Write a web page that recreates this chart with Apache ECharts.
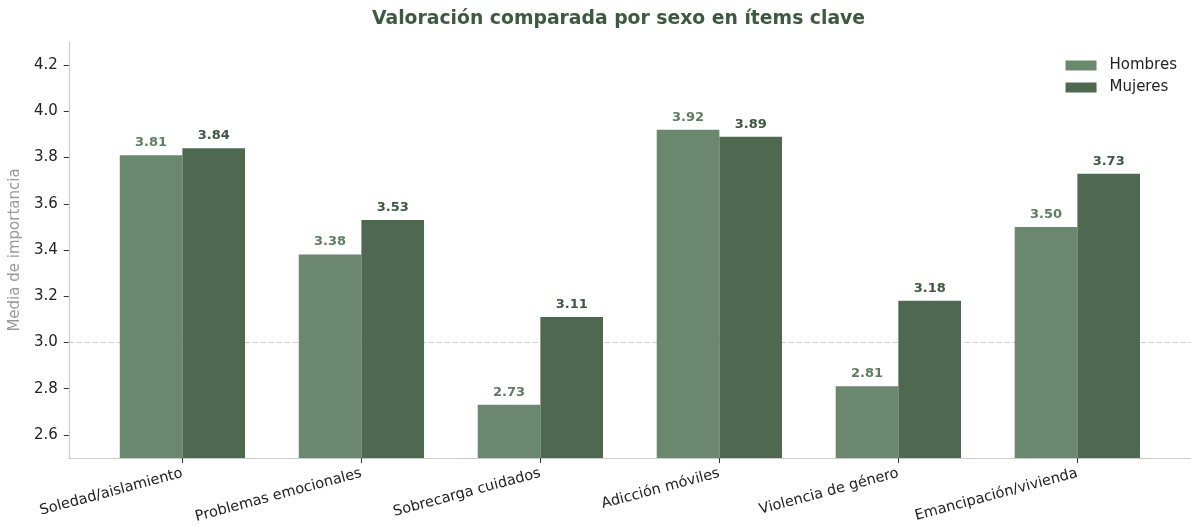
<!DOCTYPE html>
<html><head><meta charset="utf-8">
<script src="https://cdn.jsdelivr.net/npm/echarts@6/dist/echarts.min.js"></script>
<style>html,body{margin:0;padding:0;background:#fff}#c{width:1191px;height:526px}</style>
</head><body><div id="c"></div>
<script>
const categories = ["Soledad/aislamiento","Problemas emocionales","Sobrecarga cuidados","Adicción móviles","Violencia de género","Emancipación/vivienda"];
const hombres = [3.81, 3.38, 2.73, 3.92, 2.81, 3.50];
const mujeres = [3.84, 3.53, 3.11, 3.89, 3.18, 3.73];
const seriesNames = ["Hombres","Mujeres"];
const yTicks = [2.6, 2.8, 3.0, 3.2, 3.4, 3.6, 3.8, 4.0, 4.2];
const refLine = 3.0;

const font = "DejaVu Sans";
const cHom = "#6a886d", cMuj = "#4f6950";
const idx = categories.map((_, i) => i);

const chart = echarts.init(document.getElementById('c'));
chart.setOption({
  animation: false,
  textStyle: { fontFamily: font },
  title: { text: "Valoración comparada por sexo en ítems clave", left: 367, top: 5,
    textStyle: { fontFamily: font, fontSize: 18.8, fontWeight: 'bold', color: '#3b5a40' } },
  legend: { data: seriesNames, orient: 'vertical', right: 9, top: 53, itemWidth: 31, itemHeight: 10, itemGap: 7,
    icon: 'rect', textStyle: { fontFamily: font, fontSize: 15, color: '#222', padding: [0, 0, 0, 8] } },
  grid: { left: 68, right: 0, top: 42, bottom: 68, containLabel: false },
  xAxis: { type: 'value', min: -0.635, max: 5.635,
    axisLine: { show: true, onZero: false, lineStyle: { color: '#cccccc', width: 1.2 } },
    axisTick: { show: true, customValues: idx, length: 5, lineStyle: { color: '#333' } },
    axisLabel: { customValues: idx, formatter: v => categories[Math.round(v)], rotate: 15, fontSize: 14.5, color: '#222', margin: 15, fontFamily: font, hideOverlap: false },
    splitLine: { show: false } },
  yAxis: { type: 'value', min: 2.5, max: 4.3,
    name: 'Media de importancia', nameLocation: 'middle', nameGap: 40,
    nameTextStyle: { color: '#999', fontSize: 15, fontFamily: font },
    axisLine: { show: true, onZero: false, lineStyle: { color: '#cccccc', width: 1.2 } },
    axisTick: { show: true, customValues: yTicks, length: 5, lineStyle: { color: '#333' } },
    axisLabel: { customValues: yTicks, formatter: v => v.toFixed(1), fontSize: 15, color: '#222', margin: 11, fontFamily: font },
    splitLine: { show: false } },
  series: [
    { name: seriesNames[0], type: 'bar', z: 2, barWidth: '35%', barGap: '0%', data: idx.map(i => [i, hombres[i]]),
      itemStyle: { color: cHom },
      label: { show: true, position: 'top', distance: 6, formatter: p => p.value[1].toFixed(2), fontSize: 13, fontWeight: 'bold', color: '#5e7e62', fontFamily: font },
      markLine: { silent: true, z: 1, symbol: 'none', label: { show: false }, lineStyle: { color: '#cccccc', type: [5, 3], width: 1 }, data: [{ yAxis: refLine }] } },
    { name: seriesNames[1], type: 'bar', z: 2, barWidth: '35%', barGap: '0%', data: idx.map(i => [i, mujeres[i]]),
      itemStyle: { color: cMuj },
      label: { show: true, position: 'top', distance: 6, formatter: p => p.value[1].toFixed(2), fontSize: 13, fontWeight: 'bold', color: '#3e5942', fontFamily: font } }
  ]
});
</script></body></html>
